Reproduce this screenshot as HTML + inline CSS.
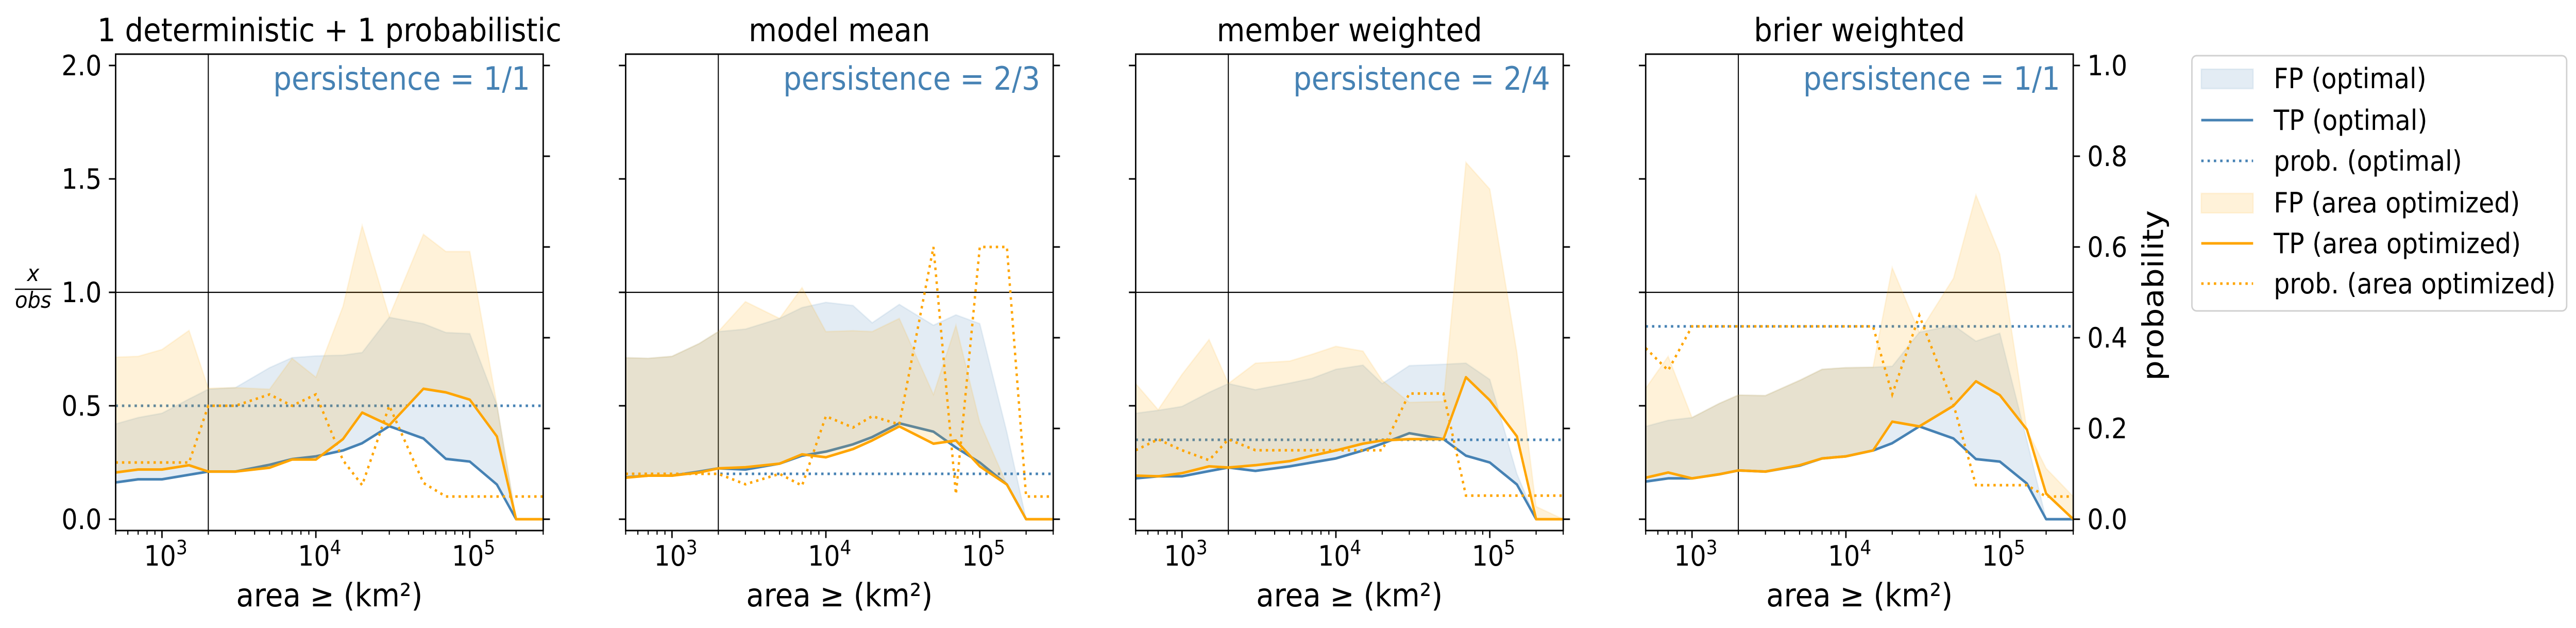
<!DOCTYPE html>
<html><head><meta charset="utf-8"><style>
html,body{margin:0;padding:0;background:#fff;width:100%;height:100%;overflow:hidden;}
svg{display:block;width:100vw;height:100vh;font-family:"DejaVu Sans","Liberation Sans",sans-serif;}
</style></head><body>
<svg id="fig" viewBox="0 0 5513 1218" preserveAspectRatio="none" xmlns="http://www.w3.org/2000/svg"></svg>
<script>
const areas=[500,700,1000,1500,2000,3000,5000,7000,10000,15000,20000,30000,50000,70000,100000,150000,200000,300000];
const titles=["1 deterministic + 1 probabilistic","model mean","member weighted","brier weighted"];
const persistence=["persistence = 1/1","persistence = 2/3","persistence = 2/4","persistence = 1/1"];
const tpOpt1=[0.162,0.176,0.176,0.196,0.21,0.21,0.24,0.265,0.277,0.303,0.335,0.41,0.356,0.266,0.254,0.153,0,0];
const tpArea1=[0.206,0.219,0.219,0.238,0.21,0.21,0.227,0.263,0.263,0.353,0.47,0.414,0.575,0.559,0.527,0.365,0,0];
const fpOpt1=[0.42,0.448,0.467,0.53,0.573,0.58,0.668,0.712,0.72,0.723,0.735,0.89,0.862,0.823,0.818,0.505,0,0];
const fpArea1=[0.714,0.718,0.748,0.832,0.577,0.58,0.573,0.709,0.626,0.938,1.294,0.894,1.256,1.18,1.18,0.506,0,0];
const probArea1=[0.125,0.125,0.125,0.125,0.25,0.25,0.275,0.25,0.275,0.13,0.075,0.25,0.08,0.05,0.05,0.05,0.05,0.05];
const tpOpt2=[0.185,0.192,0.192,0.21,0.224,0.219,0.245,0.28,0.298,0.33,0.362,0.423,0.386,0.316,0.25,0.153,0,0];
const tpArea2=[0.183,0.192,0.192,0.206,0.224,0.229,0.245,0.286,0.273,0.309,0.347,0.409,0.333,0.347,0.233,0.153,0,0];
const fpOpt2=[0.712,0.709,0.718,0.774,0.827,0.838,0.885,0.933,0.956,0.942,0.866,0.947,0.855,0.901,0.862,0.383,0,0];
const fpArea2=[0.712,0.709,0.718,0.774,0.827,0.959,0.885,1.021,0.827,0.831,0.827,0.885,0.55,0.855,0.427,0.153,0,0];
const probArea2=[0.1,0.1,0.1,0.1,0.1,0.077,0.1,0.074,0.227,0.202,0.227,0.209,0.6,0.055,0.6,0.6,0.05,0.05];
const tpOpt3=[0.18,0.189,0.189,0.212,0.228,0.213,0.233,0.25,0.268,0.303,0.333,0.379,0.353,0.28,0.25,0.153,0,0];
const tpArea3=[0.192,0.189,0.203,0.233,0.228,0.238,0.256,0.28,0.303,0.333,0.347,0.353,0.353,0.626,0.524,0.365,0,0];
const fpOpt3=[0.467,0.48,0.497,0.559,0.598,0.571,0.6,0.621,0.661,0.679,0.598,0.677,0.683,0.688,0.616,0.2,0,0];
const fpArea3=[0.598,0.483,0.638,0.792,0.598,0.688,0.697,0.727,0.762,0.741,0.612,0.515,0.519,1.573,1.455,0.735,0.056,0];
const probArea3=[0.152,0.176,0.152,0.13,0.176,0.152,0.152,0.152,0.152,0.152,0.152,0.277,0.277,0.052,0.052,0.052,0.052,0.052];
const tpOpt4=[0.166,0.18,0.18,0.198,0.215,0.21,0.236,0.268,0.277,0.303,0.335,0.409,0.356,0.265,0.254,0.157,0,0];
const tpArea4=[0.183,0.206,0.18,0.198,0.215,0.21,0.238,0.268,0.277,0.303,0.43,0.409,0.5,0.608,0.547,0.395,0.113,0];
const fpOpt4=[0.409,0.436,0.448,0.51,0.547,0.545,0.612,0.661,0.668,0.67,0.674,0.824,0.855,0.785,0.82,0.347,0,0];
const fpArea4=[0.577,0.718,0.448,0.51,0.547,0.545,0.612,0.661,0.668,0.67,1.109,0.824,1.062,1.429,1.168,0.395,0.224,0.1];
const probArea4=[0.377,0.328,0.425,0.425,0.425,0.425,0.425,0.425,0.425,0.425,0.275,0.449,0.253,0.075,0.075,0.075,0.05,0.05];
const probOpt=[0.25,0.1,0.175,0.425];
const leftTicks=[0,0.5,1,1.5,2];
const leftTickLabels=["0.0","0.5","1.0","1.5","2.0"];
const rightTicks=[0,0.2,0.4,0.6,0.8,1.0];
const rightTickLabels=["0.0","0.2","0.4","0.6","0.8","1.0"];
const xDecades=[3,4,5];
const legendLabels=["FP (optimal)","TP (optimal)","prob. (optimal)","FP (area optimized)","TP (area optimized)","prob. (area optimized)"];

const tpOpt=[tpOpt1,tpOpt2,tpOpt3,tpOpt4], tpArea=[tpArea1,tpArea2,tpArea3,tpArea4];
const fpOpt=[fpOpt1,fpOpt2,fpOpt3,fpOpt4], fpArea=[fpArea1,fpArea2,fpArea3,fpArea4];
const probArea=[probArea1,probArea2,probArea3,probArea4];

const NS="http://www.w3.org/2000/svg";
const svg=document.getElementById("fig");
const BLUE="#4682b4", ORANGE="#ffa500";
const PX=[247.5,1339,2430.5,3522], PW=915, PT=105, PB=1029;
const XMIN=Math.log10(500), XMAX=Math.log10(300000);
const YMIN=-0.05, YMAX=2.05;
function mk(tag,attrs,parent){const e=document.createElementNS(NS,tag);for(const k in attrs)e.setAttribute(k,attrs[k]);(parent||svg).appendChild(e);return e;}
function xs(i,v){return PX[i]+(Math.log10(v)-XMIN)/(XMAX-XMIN)*PW;}
function ys(v){return PB-(v-YMIN)/(YMAX-YMIN)*(PB-PT);}
function yp(p){return ys(p*2);}
function pts(i,arr,f){return arr.map((v,k)=>xs(i,areas[k]).toFixed(1)+","+f(v).toFixed(1));}

const defs=mk("defs",{});
for(let i=0;i<4;i++){
  const cp=mk("clipPath",{id:"clip"+i},defs);
  mk("rect",{x:PX[i],y:PT,width:PW,height:PB-PT},cp);
}

for(let i=0;i<4;i++){
  const g=mk("g",{});
  
  
  const pg=mk("g",{"clip-path":"url(#clip"+i+")"},g);
  const rh=mk("line",{x1:PX[i],x2:PX[i]+PW,y1:ys(1),y2:ys(1),stroke:"#000","stroke-width":2.2},pg);
  
  
  const rv=mk("line",{x1:xs(i,2000),x2:xs(i,2000),y1:PT,y2:PB,stroke:"#000","stroke-width":2.2},pg);
  
  
  const tb=pts(i,tpOpt[i],ys), fb=pts(i,fpOpt[i],ys);
  const bf=mk("polygon",{points:fb.concat(tb.slice().reverse()).join(" "),fill:BLUE,"fill-opacity":0.15,stroke:BLUE,"stroke-opacity":0.1,"stroke-width":3},pg);
  
  
  const bl=mk("polyline",{points:tb.join(" "),fill:"none",stroke:BLUE,"stroke-width":5,"stroke-linejoin":"round"},pg);
  
  
  const bp=mk("line",{x1:PX[i],x2:PX[i]+PW,y1:yp(probOpt[i]),y2:yp(probOpt[i]),stroke:BLUE,"stroke-width":5,"stroke-dasharray":"5,8.5"},pg);
  
  
  const ta=pts(i,tpArea[i],ys), fa=pts(i,fpArea[i],ys);
  const of=mk("polygon",{points:fa.concat(ta.slice().reverse()).join(" "),fill:ORANGE,"fill-opacity":0.15,stroke:ORANGE,"stroke-opacity":0.1,"stroke-width":3},pg);
  
  
  const ol=mk("polyline",{points:ta.join(" "),fill:"none",stroke:ORANGE,"stroke-width":5,"stroke-linejoin":"round"},pg);
  
  
  const op=mk("polyline",{points:pts(i,probArea[i],yp).join(" "),fill:"none",stroke:ORANGE,"stroke-width":5,"stroke-dasharray":"5,8.5"},pg);
  
  
  const fr=mk("rect",{x:PX[i],y:PT,width:PW,height:PB-PT,fill:"none",stroke:"#000","stroke-width":3},g);
  
  
  leftTicks.forEach((v,k)=>{
    const t=mk("line",{x1:PX[i],x2:PX[i]-14.5,y1:ys(v),y2:ys(v),stroke:"#000","stroke-width":3},g);
    
    
    if(i===0){
      const tl=mk("text",{x:PX[i]-30,y:ys(v)+19,"text-anchor":"end","font-size":54},g);
      tl.textContent=leftTickLabels[k];
      
      
    }
  });
  rightTicks.forEach((v,k)=>{
    const t=mk("line",{x1:PX[i]+PW,x2:PX[i]+PW+14.5,y1:yp(v),y2:yp(v),stroke:"#000","stroke-width":3},g);
    
    
    if(i===3){
      const tl=mk("text",{x:PX[i]+PW+30,y:yp(v)+19,"text-anchor":"start","font-size":54},g);
      tl.textContent=rightTickLabels[k];
      
      
    }
  });
  for(let d=2;d<=5;d++){
    for(let m=1;m<=9;m++){
      const v=m*Math.pow(10,d);
      if(v<500||v>300000)continue;
      const major=(m===1);
      const t=mk("line",{x1:xs(i,v),x2:xs(i,v),y1:PB,y2:PB+(major?14.5:8),stroke:"#000","stroke-width":major?3:2.4},g);
      
      
    }
  }
  xDecades.forEach(d=>{
    const tl=mk("text",{x:xs(i,Math.pow(10,d))+8,y:1097,"text-anchor":"middle","font-size":54},g);
    
    
    const a=document.createElementNS(NS,"tspan");a.textContent="10";tl.appendChild(a);
    const b=document.createElementNS(NS,"tspan");b.setAttribute("dy","-22");b.setAttribute("font-size","38");b.textContent=String(d);tl.appendChild(b);
  });
  const xl=mk("text",{x:PX[i]+PW/2,y:1176,"text-anchor":"middle","font-size":62},g);
  xl.textContent="area ≥ (km²)";
  
  
  const tt=mk("text",{x:PX[i]+PW/2,y:80,"text-anchor":"middle","font-size":62},g);
  tt.textContent=titles[i];
  
  
  const ps=mk("text",{x:PX[i]+PW-28,y:174,"text-anchor":"end","font-size":62,fill:BLUE},g);
  ps.textContent=persistence[i];
  
  
}
const fx=mk("g",{});


const fnum=mk("text",{x:71,y:545,"text-anchor":"middle","font-size":44,"font-style":"italic"},fx);fnum.textContent="x";
mk("line",{x1:32,x2:110,y1:561,y2:561,stroke:"#000","stroke-width":2.5},fx);
const fden=mk("text",{x:71,y:597,"text-anchor":"middle","font-size":44,"font-style":"italic"},fx);fden.textContent="obs";
const rt=mk("text",{x:0,y:0,"text-anchor":"middle","font-size":62,transform:"translate(4629,573) rotate(-90)"});
rt.textContent="probability";


const lg=mk("g",{});


mk("rect",{x:4691,y:108,width:802,height:495,rx:10,fill:"#fff",stroke:"#d0d0d0","stroke-width":3},lg);
const rowY=[152,233,312,393,472,550];
legendLabels.forEach((lab,k)=>{
  const col=k<3?BLUE:ORANGE;
  const kind=k%3;
  if(kind===0){
    const h=mk("rect",{x:4711,y:rowY[k]-18,width:111,height:38,fill:col,"fill-opacity":0.15,stroke:col,"stroke-opacity":0.1,"stroke-width":3},lg);
    
    
  } else {
    const h=mk("line",{x1:4711,x2:4822,y1:rowY[k],y2:rowY[k],stroke:col,"stroke-width":5,"stroke-dasharray":kind===2?"5,8.5":"none"},lg);
    
    
  }
  const t=mk("text",{x:4866,y:rowY[k]+19,"font-size":54},lg);
  t.textContent=lab;
  
  
});
</script>
</body></html>
